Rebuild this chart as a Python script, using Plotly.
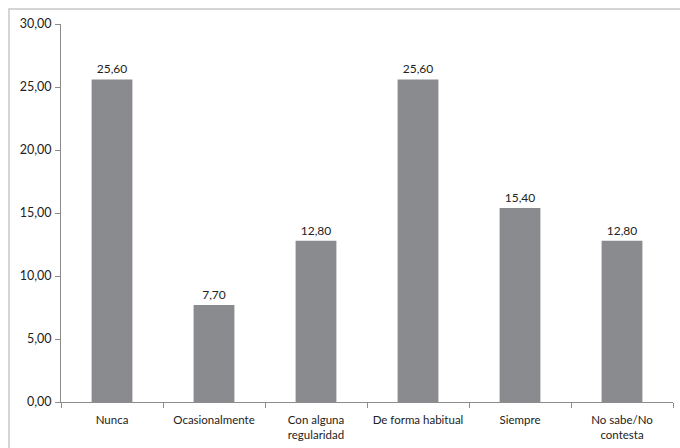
import plotly.graph_objects as go

categories = ["Nunca", "Ocasionalmente", "Con alguna<br>regularidad", "De forma habitual", "Siempre", "No sabe/No<br>contesta"]
values = [25.60, 7.70, 12.80, 25.60, 15.40, 12.80]
yticks = [0, 5, 10, 15, 20, 25, 30]

W, H = 680, 448
L, R, T, B = 61, 7, 24, 46
pw = W - L - R
ph = H - T - B

fig = go.Figure(go.Bar(
    x=categories, y=values,
    marker=dict(color="#8a8b8e", line=dict(width=0)),
    text=[f"{v:.2f}".replace(".", ",") for v in values],
    textposition="outside",
    textfont=dict(family="Lato, Open Sans, sans-serif", size=12, color="#222"),
    cliponaxis=False,
    width=0.4,
))

fig.update_layout(
    width=W, height=H,
    margin=dict(l=L, r=R, t=T, b=B, pad=0),
    plot_bgcolor="white", paper_bgcolor="white",
    separators=",.",
    showlegend=False,
    font=dict(family="Lato, Open Sans, sans-serif", size=12, color="#222"),
    bargap=0.6,
)
fig.update_xaxes(
    showline=True, linecolor="#8c8c8c", linewidth=1,
    ticks="outside", tickson="boundaries", ticklen=5, tickcolor="#8c8c8c",
    showgrid=False, tickfont=dict(size=11.5), ticklabelstandoff=7,
    tickangle=0, automargin=False,
)
fig.update_yaxes(
    range=[0, 30], tickvals=yticks, tickformat=".2f",
    showline=True, linecolor="#8c8c8c", linewidth=1,
    ticks="outside", ticklen=5, tickcolor="#8c8c8c",
    showgrid=False, zeroline=False, tickfont=dict(size=12.5), ticklabelstandoff=1,
    automargin=False,
)
# outer chart frame
fig.add_shape(type="rect", xref="paper", yref="paper",
              x0=(9 - L) / pw, x1=1.1, y0=-0.3, y1=(H - B - 9) / ph,
              line=dict(color="#c8c8c8", width=1.5), layer="below")

fig.write_html("out.html")
